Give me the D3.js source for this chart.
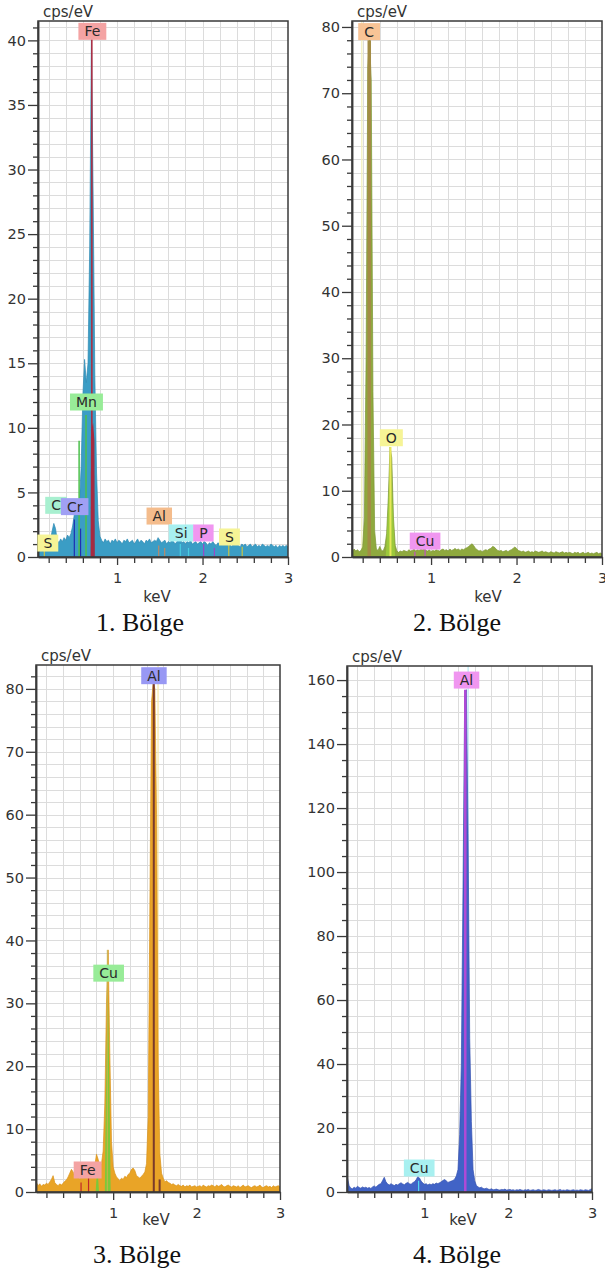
<!DOCTYPE html>
<html>
<head>
<meta charset="utf-8">
<script src="https://cdn.jsdelivr.net/npm/d3@7"></script>
<style>
body{margin:0;background:#fff}
svg{display:block}
</style>
</head>
<body>
<svg id="chart" width="605" height="1276"></svg>
<script>
// spectra: one value per channel, first channel 0.08 keV, 0.02 keV per channel (cps/eV)
var E0 = 0.08, STEP = 0.02;

var spec1 = [
0.3,0.7,0.4,0.9,0.6,0.9,1.0,1.3,2.0,2.6,
2.2,1.3,1.1,1.4,1.2,1.5,1.3,1.7,1.5,1.8,
2.4,3.3,3.6,3.2,4.2,7.0,12.5,15.3,13.5,15.0,
24.0,40.5,28.0,14.0,6.5,2.8,1.6,1.3,1.1,1.4,
1.2,1.3,1.0,1.3,1.2,1.4,1.1,1.3,1.2,1.0,
1.3,1.2,1.4,1.1,1.2,1.3,1.0,1.2,1.4,1.1,
1.3,1.2,1.0,1.3,1.2,1.4,1.1,1.2,1.3,1.2,
1.5,1.3,1.1,1.2,1.3,1.0,1.2,1.1,1.3,1.2,
1.0,1.2,1.3,1.4,1.1,1.2,1.0,1.2,1.1,1.3,
1.0,1.1,1.2,1.0,1.1,1.2,1.0,1.2,1.1,0.9,
1.1,1.0,1.2,1.0,0.9,1.1,1.0,1.1,0.9,1.0,
1.1,0.9,1.0,0.8,1.0,0.9,1.1,0.9,0.8,1.0,
0.9,1.0,0.8,0.9,1.0,0.8,0.9,1.0,0.8,0.9,
0.8,1.0,0.9,0.8,0.9,0.8,1.0,0.9,0.8,0.9,
0.7,0.9,0.8,0.9,0.8,0.9,0.8
];

var spec2 = [
0.8,1.2,0.9,1.1,0.8,1.0,1.5,6,30,74,
78,72,25,4,1.2,1.0,1.6,1.0,0.9,1.6,
3.5,9,16.6,15,6,1.8,0.9,0.7,0.9,0.8,
1.0,0.9,0.8,1.1,0.9,1.0,1.2,0.9,1.1,1.0,
1.2,1.1,1.3,1.0,0.9,1.1,0.8,1.0,0.9,1.1,
1.0,0.9,1.1,1.2,1.0,1.1,0.9,1.2,1.0,1.1,
1.3,1.1,1.2,1.0,1.2,1.1,1.3,1.4,1.6,1.8,
2.0,1.7,1.3,1.1,0.9,1.0,0.8,1.0,1.1,1.0,
1.2,1.3,1.6,1.5,1.2,1.0,0.9,1.0,0.8,0.9,
1.0,0.8,1.0,1.1,1.3,1.5,1.3,1.0,0.9,0.8,
0.9,0.7,0.8,0.9,0.7,0.8,0.7,0.9,0.8,0.7,
0.8,0.9,0.7,0.8,0.7,0.6,0.8,0.7,0.6,0.8,
0.7,0.6,0.7,0.8,0.6,0.7,0.6,0.7,0.6,0.5,
0.7,0.6,0.7,0.5,0.6,0.7,0.5,0.6,0.7,0.5,
0.6,0.5,0.6,0.7,0.5,0.6,0.5
];

var spec3 = [
1.5,1.0,1.3,0.9,1.2,1.1,1.4,1.2,1.6,2.0,
2.6,1.5,1.2,1.0,1.3,1.1,1.4,1.7,1.9,2.4,
3.0,3.6,3.2,2.5,2.2,2.6,2.0,2.4,2.1,2.5,
2.8,3.4,3.0,2.6,3.2,4.2,6.0,5.2,4.0,4.5,
6.5,14,30,38.5,22,8,4.0,3.0,2.4,2.1,
1.8,2.2,2.0,2.5,2.3,2.8,3.0,3.6,3.8,3.4,
2.6,2.4,2.2,2.5,2.8,3.2,4.5,12,45,78,
81,80,60,20,6,3,2.2,1.6,1.8,1.5,
1.4,1.2,1.3,1.1,1.0,1.2,1.0,0.9,1.1,0.8,
1.0,0.9,1.1,0.8,0.9,1.0,0.8,0.9,1.0,0.8,
1.1,0.9,0.8,1.0,0.9,1.1,1.0,0.8,1.1,0.9,
1.0,1.2,0.9,0.8,1.0,1.1,0.9,0.8,1.0,0.9,
0.8,1.0,0.7,0.9,1.1,0.8,0.9,1.0,0.8,0.7,
0.9,1.0,0.8,0.9,1.1,0.8,0.7,0.9,1.0,0.8,
0.9,0.7,1.0,0.8,0.9,1.0,0.8
];

var spec4 = [
4.5,2.0,1.2,1.0,1.5,1.2,1.8,1.4,1.2,1.6,
1.3,1.5,1.2,1.4,1.1,1.6,1.9,1.5,2.0,2.4,
2.6,3.6,4.6,3.2,2.5,2.2,2.6,2.3,2.0,2.4,
2.2,2.6,2.9,2.5,2.3,2.7,3.0,2.6,2.4,2.9,
3.2,3.8,4.8,4.4,3.4,2.8,2.4,2.6,2.2,2.5,
2.3,2.6,2.4,2.8,2.6,2.9,3.2,3.6,3.9,3.5,
3.0,3.2,3.4,3.6,4.0,5.0,7,18,40,95,
155,157,112,48,22,7,3.5,2.0,1.6,1.3,
1.5,1.1,1.0,1.2,0.9,0.8,1.0,0.7,0.8,0.9,
0.7,0.6,0.8,0.7,0.9,0.6,0.7,0.8,0.6,0.7,
0.5,0.7,0.6,0.8,0.6,0.5,0.7,0.6,0.8,0.5,
0.6,0.7,0.5,0.6,0.8,0.6,0.5,0.7,0.6,0.5,
0.7,0.6,0.5,0.6,0.7,0.5,0.6,0.8,0.5,0.6,
0.5,0.7,0.6,0.5,0.6,0.7,0.5,0.6,0.5,0.7,
0.6,0.5,0.7,0.6,0.5,0.8,1.0
];

// element lines: [element, keV, height in cps/eV]
var lines1 = [["S",0.149,0.8],["Cr",0.500,2.9],["Mn",0.556,9.0],["Cr",0.573,2.2],["Mn",0.637,11.0],
  ["Fe",0.705,40.5],["Al",1.487,0.9],["Al",1.557,0.7],["Si",1.740,1.0],["Si",1.836,0.7],
  ["P",2.013,1.0],["P",2.139,0.7],["S",2.307,1.1],["S",2.464,0.8]];
var lines2 = [["C",0.277,78],["O",0.525,16.6],["Cu",0.811,0.8],["Cu",0.930,1.3]];
var lines3 = [["Fe",0.615,1.5],["Fe",0.705,2.5],["Cu",0.930,38.5],["Al",1.487,81],["Al",1.557,2.0]];
var lines4 = [["Cu",0.930,3.5],["Al",1.487,157]];

// fitted element peaks drawn over the spectrum: [keV, cps/eV] pairs
var over1 = [["Fe",[[0.69,0],[0.695,9.8],[0.72,10.4],[0.735,9],[0.74,0]]]];
var over2 = [["O",[[0.47,0],[0.50,8],[0.525,15.5],[0.55,8],[0.58,0]]]];
var over3 = [["Cu",[[0.90,0],[0.915,17],[0.935,33],[0.955,17],[0.97,0]]],["Cu",[[0.79,0],[0.81,4.5],[0.83,0]]]];
var over4 = [];

// element labels: [element, keV, cps/eV] (centre of the tag)
var labels1 = [["S",0.19,1.08],["C",0.287,4.0],["Cr",0.504,3.9],["Mn",0.642,12.0],["Fe",0.711,40.7],
  ["Al",1.494,3.17],["Si",1.75,1.86],["P",2.01,1.86],["S",2.315,1.55]];
var labels2 = [["C",0.275,79.3],["O",0.535,18.0],["Cu",0.93,2.4]];
var labels3 = [["Fe",0.694,3.5],["Cu",0.946,34.8],["Al",1.489,82.1]];
var labels4 = [["Cu",0.937,7.5],["Al",1.502,160]];

var yTicks1 = [0,5,10,15,20,25,30,35,40];
var yTicks2 = [0,10,20,30,40,50,60,70,80];
var yTicks3 = [0,10,20,30,40,50,60,70,80];
var yTicks4 = [0,20,40,60,80,100,120,140,160];
var xTicks = [1,2,3];
var captions = ["1. Bölge","2. Bölge","3. Bölge","4. Bölge"];

var panels = [
  {id:1, box:{l:38,t:21,r:288,b:557}, yMax:41.5, minor:1, yTicks:yTicks1, data:spec1,
   lines:lines1, over:over1, labels:labels1, caption:captions[0], capX:140, capY:631, keVX:157, keVY:602,
   fill:"#3b9dc5", edge:"#2e8ab3",
   lineColor:{S:"#c8c444",Cr:"#1f2fb0",Mn:"#4cc04c",Fe:"#b0283c",Al:"#b88a6a",Si:"#48cde0",P:"#9a48c8"},
   lineWidth:{Fe:1.5,Mn:1.5},
   overColor:{Fe:"#9a2f48"},
   labelFill:{Fe:"#f4a3a3",Mn:"#98ec98",C:"#a8f0d0",Cr:"#a0a0f4",S:"#f6f496",Al:"#f4bc8c",Si:"#a8f0f0",P:"#f096f0"}},
  {id:2, box:{l:352,t:21,r:602,b:557}, yMax:80.9, minor:2, yTicks:yTicks2, data:spec2,
   lines:lines2, over:over2, labels:labels2, caption:captions[1], capX:457, capY:631, keVX:488, keVY:602,
   fill:"#8fa93e", edge:"#7d9634", marker:[0.19,"#f2f0b8"],
   lineColor:{C:"#a38c45",O:"#e8e85a",Cu:"#c050c0"},
   lineWidth:{C:3.5,O:2},
   overColor:{O:"#9cc83c"},
   labelFill:{C:"#f8c496",O:"#f6f496",Cu:"#f096f0"}},
  {id:3, box:{l:36,t:665,r:280,b:1192}, yMax:83.8, minor:2, yTicks:yTicks3, data:spec3,
   lines:lines3, over:over3, labels:labels3, caption:captions[2], capX:137, capY:1263, keVX:156, keVY:1225,
   fill:"#e9a427", edge:"#d8921a", marker:[1.538,"#f8eaa8"],
   lineColor:{Fe:"#c02828",Cu:"#c8b24c",Al:"#7a3a2a"},
   lineWidth:{Al:2,Cu:1},
   overColor:{Cu:"#7cc83a"},
   labelFill:{Al:"#9898f4",Cu:"#98ec98",Fe:"#f4a3a3"}},
  {id:4, box:{l:347,t:666,r:592,b:1192}, yMax:164.4, minor:5, yTicks:yTicks4, data:spec4,
   lines:lines4, over:over4, labels:labels4, caption:captions[3], capX:457, capY:1263, keVX:463, keVY:1225,
   fill:"#4163c6", edge:"#3552b0", marker:[1.521,"#b8e8f2"],
   lineColor:{Al:"#b04ad6",Cu:"#50d8f0"},
   lineWidth:{Al:2.5},
   overColor:{},
   labelFill:{Al:"#f096f0",Cu:"#a8f0f0"}}
];

var svg = d3.select("#chart");
var FONT = "DejaVu Sans, Verdana, sans-serif";

function crisp(v){ return Math.round(v) + 0.5; }

function drawPanel(p){
  var b = p.box;
  var x = d3.scaleLinear().domain([0.075, 3]).range([b.l, b.r]);
  var y = d3.scaleLinear().domain([0, p.yMax]).range([b.b, b.t]);
  var g = svg.append("g");

  svg.append("clipPath").attr("id", "clip" + p.id).append("rect")
    .attr("x", b.l).attr("y", b.t).attr("width", b.r - b.l).attr("height", b.b - b.t);

  //// grid
  var gridX = d3.range(0.2, 2.9, 0.2);
  g.append("g").selectAll("line").data(gridX).join("line")
    .attr("x1", function(d){ return crisp(x(d)); })
    .attr("x2", function(d){ return crisp(x(d)); })
    .attr("y1", b.t).attr("y2", b.b)
    .attr("stroke", "#dcdcdc").attr("stroke-width", 1);

  var gridY = d3.range(p.minor, p.yMax, p.minor);
  g.append("g").selectAll("line").data(gridY).join("line")
    .attr("x1", b.l).attr("x2", b.r)
    .attr("y1", function(d){ return crisp(y(d)); })
    .attr("y2", function(d){ return crisp(y(d)); })
    .attr("stroke", "#dcdcdc").attr("stroke-width", 1);

  var plot = g.append("g").attr("clip-path", "url(#clip" + p.id + ")");

  if(p.marker){
    plot.append("line")
      .attr("x1", x(p.marker[0])).attr("x2", x(p.marker[0]))
      .attr("y1", b.t).attr("y2", b.b)
      .attr("stroke", p.marker[1]).attr("stroke-width", 1.2);
  }

  //// spectrum
  var pts = p.data.map(function(v, i){ return [E0 + STEP * i, v]; });
  var area = d3.area()
    .x(function(d){ return x(d[0]); })
    .y0(y(0))
    .y1(function(d){ return y(d[1]); });
  var line = d3.line()
    .x(function(d){ return x(d[0]); })
    .y(function(d){ return y(d[1]); });

  plot.append("path").datum(pts).attr("d", area).attr("fill", p.fill);
  plot.append("path").datum(pts).attr("d", line)
    .attr("fill", "none").attr("stroke", p.edge).attr("stroke-width", 0.7);

  // fitted peaks
  p.over.forEach(function(o){
    plot.append("path").datum(o[1]).attr("d", area).attr("fill", p.overColor[o[0]]);
  });

  // element lines
  plot.append("g").selectAll("line").data(p.lines).join("line")
    .attr("x1", function(d){ return x(d[1]); })
    .attr("x2", function(d){ return x(d[1]); })
    .attr("y1", y(0))
    .attr("y2", function(d){ return y(d[2]); })
    .attr("stroke", function(d){ return p.lineColor[d[0]]; })
    .attr("stroke-width", function(d){ return p.lineWidth[d[0]] || 1.2; });

  //// frame
  g.append("rect")
    .attr("x", b.l).attr("y", b.t).attr("width", b.r - b.l).attr("height", b.b - b.t)
    .attr("fill", "none").attr("stroke", "#3a3a3a").attr("stroke-width", 1.5);

  //// axes
  var yMinor = d3.range(0, p.yMax, p.minor).filter(function(v){ return p.yTicks.indexOf(v) < 0; });
  var xMinor = d3.range(0.2, 3, 0.2).filter(function(v){ return Math.abs(v - Math.round(v)) > 0.01; });

  var axes = [
    g.append("g").attr("transform", "translate(" + b.l + ",0)")
      .call(d3.axisLeft(y).tickValues(yMinor).tickSize(5).tickFormat("").tickSizeOuter(0)),
    g.append("g").attr("transform", "translate(" + b.l + ",0)")
      .call(d3.axisLeft(y).tickValues(p.yTicks).tickSize(10).tickPadding(2).tickSizeOuter(0)),
    g.append("g").attr("transform", "translate(0," + b.b + ")")
      .call(d3.axisBottom(x).tickValues(xMinor).tickSize(6).tickFormat("").tickSizeOuter(0)),
    g.append("g").attr("transform", "translate(0," + b.b + ")")
      .call(d3.axisBottom(x).tickValues(xTicks).tickFormat(d3.format("d"))
        .tickSize(8).tickPadding(8).tickSizeOuter(0))
  ];
  axes.forEach(function(a){
    a.selectAll("path").attr("stroke", "#3a3a3a").attr("stroke-width", 1.5);
    a.selectAll("line").attr("stroke", "#3a3a3a").attr("stroke-width", 1.3);
    a.selectAll("text").attr("font-family", FONT).attr("font-size", 14.5).attr("fill", "#333");
  });

  g.append("text").attr("x", b.l + 5).attr("y", b.t - 4)
    .attr("font-family", FONT).attr("font-size", 15).attr("fill", "#333")
    .text("cps/eV");
  g.append("text").attr("x", p.keVX).attr("y", p.keVY).attr("text-anchor", "middle")
    .attr("font-family", FONT).attr("font-size", 15).attr("fill", "#333")
    .text("keV");

  //// element tags
  p.labels.forEach(function(d){
    var lg = g.append("g");
    var rect = lg.append("rect");
    var t = lg.append("text")
      .attr("x", x(d[1])).attr("y", y(d[2])).attr("dy", "0.36em")
      .attr("text-anchor", "middle")
      .attr("font-family", FONT).attr("font-size", 14).attr("fill", "#2a2a2a")
      .text(d[0]);
    var w = t.node().getComputedTextLength() + 12;
    rect.attr("x", x(d[1]) - w / 2).attr("y", y(d[2]) - 8.5)
      .attr("width", w).attr("height", 17)
      .attr("fill", p.labelFill[d[0]]);
  });

  //// caption
  svg.append("text").attr("x", p.capX).attr("y", p.capY).attr("text-anchor", "middle")
    .attr("font-family", "Liberation Serif, Times New Roman, serif").attr("font-size", 26)
    .attr("fill", "#111")
    .text(p.caption);
}

panels.forEach(drawPanel);
</script>
</body>
</html>
